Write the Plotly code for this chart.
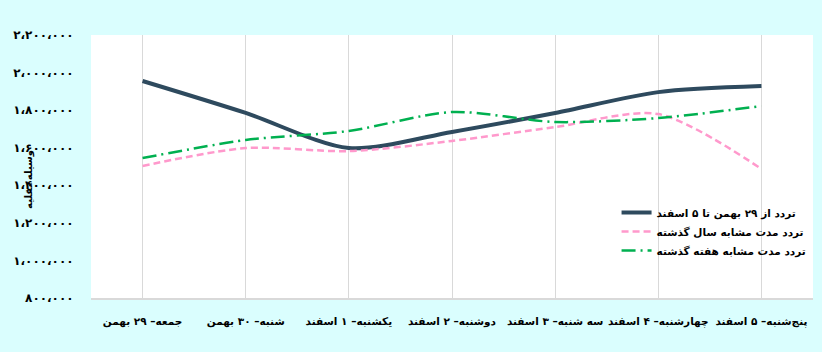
import plotly.graph_objects as go

categories = ["جمعه– ۲۹ بهمن", "شنبه– ۳۰ بهمن", "یکشنبه– ۱ اسفند", "دوشنبه– ۲ اسفند",
              "سه شنبه– ۳ اسفند", "چهارشنبه– ۴ اسفند", "پنج‌شنبه– ۵ اسفند"]
current = [1955000, 1785000, 1598000, 1684000, 1785000, 1896000, 1928000]
last_year = [1503000, 1598000, 1582000, 1636000, 1710000, 1779000, 1487000]
last_week = [1545000, 1641000, 1689000, 1790000, 1737000, 1758000, 1822000]
names = ["تردد از ۲۹ بهمن تا ۵ اسفند", "تردد مدت مشابه سال گذشته", "تردد مدت مشابه هفته گذشته"]
tick_vals = [800000, 1000000, 1200000, 1400000, 1600000, 1800000, 2000000, 2200000]
tick_text = ["۸۰۰،۰۰۰", "۱،۰۰۰،۰۰۰", "۱،۲۰۰،۰۰۰", "۱،۴۰۰،۰۰۰", "۱،۶۰۰،۰۰۰", "۱،۸۰۰،۰۰۰", "۲،۰۰۰،۰۰۰", "۲،۲۰۰،۰۰۰"]
y_title = "وسیله نقلیه"

font = "DejaVu Sans"
fig = go.Figure()
fig.add_trace(go.Scatter(x=categories, y=current, name=names[0], mode="lines",
                         line=dict(color="#2e4a5e", width=4, shape="spline", smoothing=0.8)))
fig.add_trace(go.Scatter(x=categories, y=last_year, name=names[1], mode="lines",
                         line=dict(color="#ff99cc", width=2.5, dash="7px,4px", shape="spline", smoothing=0.8)))
fig.add_trace(go.Scatter(x=categories, y=last_week, name=names[2], mode="lines",
                         line=dict(color="#00b050", width=2.5, dash="14px,5px,2px,5px", shape="spline", smoothing=0.8)))

fig.update_layout(
    width=822, height=352,
    margin=dict(l=91, r=9, t=35, b=54, autoexpand=False),
    paper_bgcolor="#dafefe", plot_bgcolor="#ffffff",
    font=dict(family=font, size=11, color="#000000"),
    showlegend=True,
    legend=dict(x=0.998, y=0.38, xanchor="right", yanchor="top", bgcolor="rgba(255,255,255,0)",
                font=dict(family=font, size=10.5, color="#000000", weight="bold"),
                itemwidth=30, tracegroupgap=0),
)
fig.update_xaxes(type="category", range=[-0.5, 6.5], showgrid=True, gridcolor="#d9d9d9", gridwidth=1,
                 showline=True, linecolor="#d9d9d9", linewidth=1.5, tickangle=0, automargin=False,
                 ticks="outside", ticklen=13, tickcolor="rgba(0,0,0,0)",
                 tickfont=dict(family=font, size=10.5, color="#000000", weight="bold"), fixedrange=True)
fig.update_yaxes(range=[800000, 2200000], tickvals=tick_vals, ticktext=tick_text, showgrid=False,
                 zeroline=False, showline=False, ticks="outside", ticklen=14, tickcolor="rgba(0,0,0,0)",
                 automargin=False,
                 tickfont=dict(family=font, size=12, color="#000000", weight="bold"), fixedrange=True)
fig.add_annotation(text=y_title, xref="paper", yref="paper", x=-0.098, y=0.45, textangle=-90,
                   showarrow=False, font=dict(family=font, size=10, color="#000000", weight="bold"))

fig.write_html("out.html")
